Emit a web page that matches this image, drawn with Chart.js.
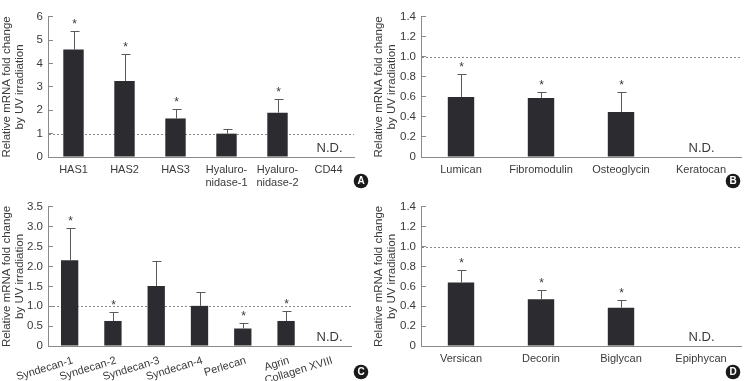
<!DOCTYPE html>
<html><head><meta charset="utf-8">
<script src="https://cdn.jsdelivr.net/npm/chart.js@4/dist/chart.umd.min.js"></script>
<style>
html,body{margin:0;padding:0;background:#fff;}
#wrap{position:relative;width:744px;height:381px;overflow:hidden;background:#fff;}
canvas{position:absolute;}
</style></head><body>
<div id="wrap">
<canvas id="cA" width="372" height="190" style="left:0;top:0"></canvas>
<canvas id="cB" width="372" height="190" style="left:372px;top:0"></canvas>
<canvas id="cC" width="372" height="191" style="left:0;top:190px"></canvas>
<canvas id="cD" width="372" height="191" style="left:372px;top:190px"></canvas>
</div>
<script>
// ---- Data ----
const labelsA = ['HAS1', 'HAS2', 'HAS3', ['Hyaluro-', 'nidase-1'], ['Hyaluro-', 'nidase-2'], 'CD44'];
const meansA  = [4.6, 3.25, 1.65, 1.0, 1.9, null];
const errTopA = [5.4, 4.42, 2.04, 1.2, 2.48, null];
const sigA    = [1, 1, 1, 0, 1, 0];

const labelsB = ['Lumican', 'Fibromodulin', 'Osteoglycin', 'Keratocan'];
const meansB  = [0.60, 0.59, 0.45, null];
const errTopB = [0.83, 0.65, 0.65, null];
const sigB    = [1, 1, 1, 0];

const labelsC = ['Syndecan-1', 'Syndecan-2', 'Syndecan-3', 'Syndecan-4', 'Perlecan', 'Agrin', 'Collagen XVIII'];
const meansC  = [2.16, 0.63, 1.51, 1.01, 0.44, 0.63, null];
const errTopC = [2.96, 0.86, 2.13, 1.37, 0.57, 0.88, null];
const sigC    = [1, 1, 0, 0, 1, 1, 0];

const labelsD = ['Versican', 'Decorin', 'Biglycan', 'Epiphycan'];
const meansD  = [0.64, 0.47, 0.385, null];
const errTopD = [0.76, 0.56, 0.46, null];
const sigD    = [1, 1, 1, 0];

const yTicksA = {max: 6, step: 1};
const yTicksB = {max: 1.4, step: 0.2};
const yTicksC = {max: 3.5, step: 0.5};
const yTicksD = {max: 1.4, step: 0.2};

const refValue = 1.0;
const yTitle = ['Relative mRNA fold change', 'by UV irradiation'];
const notDetected = 'N.D.';

// ---- Style ----
const FONT = '"Liberation Sans", Arial, Helvetica, sans-serif';
const BAR = '#2b2b30';
const AXIS = '#8a8a8a';
const TXT = '#3a3a3a';

const overlay = {
  id: 'overlay',
  beforeDatasetsDraw(chart, args, o) {
    const ctx = chart.ctx, y = chart.scales.y, a = chart.chartArea;
    ctx.save();
    ctx.strokeStyle = '#8a8a8a';
    ctx.lineWidth = 1;
    ctx.setLineDash([2, 2]);
    const py = Math.round(y.getPixelForValue(refValue)) + 0.5;
    ctx.beginPath(); ctx.moveTo(a.left + 1, py); ctx.lineTo(a.right, py); ctx.stroke();
    ctx.restore();
  },
  afterDatasetsDraw(chart, args, o) {
    const ctx = chart.ctx, y = chart.scales.y, x = chart.scales.x;
    ctx.save();
    o.means.forEach((v, i) => {
      const cx = Math.round(x.getPixelForValue(i)) + 0.5;
      if (v == null) {
        ctx.fillStyle = TXT;
        ctx.font = '13px ' + FONT;
        ctx.textAlign = 'center';
        ctx.textBaseline = 'alphabetic';
        ctx.fillText(notDetected, cx, y.getPixelForValue(0) - 5);
        return;
      }
      const top = Math.round(y.getPixelForValue(o.errTop[i])) + 0.5;
      const base = y.getPixelForValue(v);
      ctx.strokeStyle = '#5a5a5a';
      ctx.lineWidth = 1;
      ctx.beginPath();
      ctx.moveTo(cx, base); ctx.lineTo(cx, top);
      ctx.moveTo(cx - 4, top); ctx.lineTo(cx + 5, top);
      ctx.stroke();
      if (o.sig[i]) {
        ctx.fillStyle = TXT;
        ctx.font = '12px ' + FONT;
        ctx.textAlign = 'center';
        ctx.textBaseline = 'alphabetic';
        ctx.fillText('*', cx, top - 4);
      }
    });
    // panel letter
    const lx = chart.width - 11, ly = chart.height - 9;
    ctx.fillStyle = '#1a1a1a';
    ctx.beginPath(); ctx.arc(lx, ly, 7.3, 0, Math.PI * 2); ctx.fill();
    ctx.fillStyle = '#fff';
    ctx.font = 'bold 10px ' + FONT;
    ctx.textAlign = 'center';
    ctx.textBaseline = 'middle';
    ctx.fillText(o.letter, lx, ly + 0.5);
    ctx.restore();
  }
};

function fmt(step) {
  return v => (v === 0 ? '0' : (step < 1 ? v.toFixed(1) : String(v)));
}

function makeChart(id, labels, means, errTop, sig, yt, opt) {
  return new Chart(document.getElementById(id), {
    type: 'bar',
    data: {
      labels: labels,
      datasets: [{
        data: means,
        backgroundColor: BAR,
        borderWidth: 0,
        categoryPercentage: 1,
        barPercentage: opt.barPct
      }]
    },
    options: {
      responsive: false,
      animation: false,
      events: [],
      layout: {padding: {left: 0, top: 14, right: opt.padRight, bottom: 0}},
      plugins: {
        legend: {display: false},
        tooltip: {enabled: false},
        overlay: {means: means, errTop: errTop, sig: sig, letter: opt.letter}
      },
      scales: {
        x: {
          offset: true,
          grid: {display: false, drawTicks: false},
          border: {display: true, color: AXIS, width: 1},
          ticks: {
            padding: opt.xPad, color: TXT, autoSkip: false,
            maxRotation: opt.rot, minRotation: opt.rot, labelOffset: opt.rot ? 3 : 0,
            font: {family: FONT, size: 11, lineHeight: 1.2}
          },
          afterFit(s) { s.height = opt.xHeight; }
        },
        y: {
          min: 0, max: yt.max,
          grid: {display: true, drawOnChartArea: false, drawTicks: true, tickLength: -5, color: AXIS},
          border: {display: true, color: AXIS, width: 1},
          ticks: {
            stepSize: yt.step, padding: 10, color: TXT,
            font: {family: FONT, size: 11.5},
            callback: fmt(yt.step)
          },
          title: {
            display: true, text: yTitle, color: TXT,
            font: {family: FONT, size: 11.5, lineHeight: 1.15},
            padding: {top: 0, bottom: 0}
          },
          afterFit(s) { s.width = opt.yWidth; }
        }
      }
    },
    plugins: [overlay]
  });
}

makeChart('cA', labelsA, meansA, errTopA, sigA, yTicksA,
  {barPct: 0.4, padRight: 18, yWidth: 48, xHeight: 33, xPad: 6, rot: 0, letter: 'A'});
makeChart('cB', labelsB, meansB, errTopB, sigB, yTicksB,
  {barPct: 0.33, padRight: 3, yWidth: 49, xHeight: 33, xPad: 6, rot: 0, letter: 'B'});
makeChart('cC', labelsC, meansC, errTopC, sigC, yTicksC,
  {barPct: 0.4, padRight: 21, yWidth: 48, xHeight: 35, xPad: 8, rot: 17, letter: 'C'});
makeChart('cD', labelsD, meansD, errTopD, sigD, yTicksD,
  {barPct: 0.33, padRight: 3, yWidth: 49, xHeight: 35, xPad: 6, rot: 0, letter: 'D'});
</script>
</body></html>
